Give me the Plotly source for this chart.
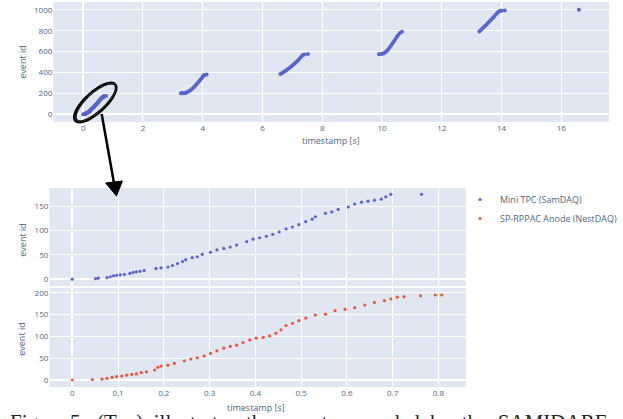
import math
import plotly.graph_objects as go

W, H = 623, 419

# ---------------- data ----------------
# Mini TPC (SamDAQ) - zoomed first burst
mini_t = [0.000, 0.051, 0.057, 0.076, 0.083, 0.090, 0.097, 0.105, 0.114, 0.126, 0.133,
          0.140, 0.148, 0.157, 0.183, 0.194, 0.209, 0.219, 0.230, 0.241, 0.248, 0.262,
          0.273, 0.284, 0.302, 0.316, 0.331, 0.345, 0.359, 0.381, 0.395, 0.409, 0.424,
          0.438, 0.452, 0.467, 0.481, 0.495, 0.510, 0.524, 0.531, 0.553, 0.567, 0.581,
          0.603, 0.617, 0.632, 0.646, 0.660, 0.675, 0.685, 0.696, 0.763]
mini_id = [0, 1, 2, 3, 5, 7, 8, 9, 10, 12, 14,
           15, 16, 18, 22, 23, 25, 28, 32, 36, 40, 44,
           46, 51, 55, 60, 63, 66, 70, 77, 82, 85, 88,
           92, 97, 103, 107, 112, 118, 123, 128, 135, 138, 143,
           148, 154, 158, 160, 162, 164, 169, 174, 174]

# SP-RPPAC Anode (NestDAQ)
rppac_t = [0.000, 0.044, 0.065, 0.076, 0.087, 0.097, 0.108, 0.119, 0.130, 0.140, 0.151,
           0.162, 0.180, 0.187, 0.194, 0.209, 0.223, 0.245, 0.259, 0.273, 0.288, 0.302,
           0.316, 0.331, 0.345, 0.359, 0.373, 0.388, 0.402, 0.417, 0.431, 0.445, 0.456,
           0.467, 0.481, 0.495, 0.510, 0.531, 0.553, 0.574, 0.596, 0.617, 0.639, 0.660,
           0.682, 0.696, 0.710, 0.725, 0.761, 0.793, 0.807]
rppac_id = [0, 1, 2, 4, 6, 8, 9, 11, 13, 14, 17,
            19, 23, 29, 32, 34, 38, 44, 48, 51, 55, 61,
            67, 73, 77, 80, 86, 92, 96, 98, 101, 107, 115,
            125, 130, 136, 142, 149, 151, 159, 162, 166, 172, 178,
            182, 186, 190, 191, 193, 195, 195]

# Full run (Mini TPC), later bursts
burst2_t = [3.27, 3.30, 3.34, 3.38, 3.42, 3.46, 3.50, 3.55, 3.60, 3.65, 3.70, 3.75, 3.80,
            3.85, 3.90, 3.95, 4.00, 4.03, 4.06, 4.13]
burst2_id = [200, 200, 201, 202, 204, 208, 214, 222, 232, 244, 257, 272, 288,
             305, 322, 340, 358, 370, 376, 380]
burst3_t = [6.60, 6.65, 6.70, 6.75, 6.80, 6.85, 6.90, 6.95, 7.00, 7.05, 7.10, 7.15, 7.20,
            7.25, 7.30, 7.35, 7.40, 7.52]
burst3_id = [385, 393, 402, 412, 422, 432, 443, 454, 466, 478, 491, 505, 520,
             536, 552, 566, 573, 576]
burst4_t = [9.90, 9.95, 10.00, 10.05, 10.10, 10.15, 10.20, 10.25, 10.30, 10.35, 10.40,
            10.45, 10.50, 10.55, 10.60, 10.67]
burst4_id = [575, 576, 578, 582, 590, 602, 618, 636, 656, 677, 698,
             720, 742, 762, 778, 790]
burst5_t = [13.26, 13.30, 13.35, 13.40, 13.45, 13.50, 13.55, 13.60, 13.65, 13.70, 13.75,
            13.80, 13.85, 13.90, 13.95, 14.00, 14.11]
burst5_id = [792, 804, 818, 832, 846, 860, 875, 890, 905, 920, 936,
             952, 968, 982, 990, 992, 993]
burst6_t = [16.59]
burst6_id = [1000]

top_xticks = [0, 2, 4, 6, 8, 10, 12, 14, 16]
top_yticks = [0, 200, 400, 600, 800, 1000]
zoom_xticks = [0, 0.1, 0.2, 0.3, 0.4, 0.5, 0.6, 0.7, 0.8]

BLUE = "#5865cf"
RED = "#ef553b"
TXT = "#506784"
FONT = "Open Sans"

run_t = mini_t + burst2_t + burst3_t + burst4_t + burst5_t + burst6_t
run_id = mini_id + burst2_id + burst3_id + burst4_id + burst5_id + burst6_id


def fx(px):
    return px / W


def fy(py):
    return 1 - py / H


fig = go.Figure()
fig.add_trace(go.Scatter(x=run_t, y=run_id, mode="markers", xaxis="x", yaxis="y",
                         marker=dict(color=BLUE, size=4), showlegend=False))
fig.add_trace(go.Scatter(x=mini_t, y=mini_id, mode="markers", xaxis="x2", yaxis="y2",
                         name="Mini TPC (SamDAQ)", marker=dict(color=BLUE, size=3.2)))
fig.add_trace(go.Scatter(x=rppac_t, y=rppac_id, mode="markers", xaxis="x3", yaxis="y3",
                         name="SP-RPPAC Anode (NestDAQ)", marker=dict(color=RED, size=3.2)))

tickf = dict(size=8, color=TXT, family=FONT)
titf = dict(size=9, color=TXT, family=FONT)
ax_common = dict(tickfont=tickf, gridcolor="white", zerolinecolor="white",
                 zerolinewidth=2, automargin=False)

fig.update_layout(
    width=W, height=H, template="plotly",
    margin=dict(l=0, r=0, t=0, b=0),
    plot_bgcolor="#e0e7f2", paper_bgcolor="white",
    font=dict(family=FONT, color=TXT),
    xaxis=dict(domain=[fx(54), fx(617)], range=[-1.0, 17.6], tickvals=top_xticks,
               anchor="y", **ax_common),
    yaxis=dict(domain=[fy(122), fy(2)], range=[-75, 1075], tickvals=top_yticks,
               anchor="x", **ax_common),
    xaxis2=dict(domain=[fx(50), fx(472)], range=[-0.05, 0.86], tickvals=zoom_xticks,
                showticklabels=False, anchor="y2", **ax_common),
    yaxis2=dict(domain=[fy(286), fy(188)], range=[-14, 187], dtick=50,
                anchor="x2", **ax_common),
    xaxis3=dict(domain=[fx(50), fx(472)], range=[-0.05, 0.86], tickvals=zoom_xticks,
                anchor="y3", **ax_common),
    yaxis3=dict(domain=[fy(387), fy(288)], range=[-16, 211], dtick=50,
                anchor="x3", **ax_common),
    legend=dict(x=fx(466), y=fy(185), xanchor="left", yanchor="top",
                font=dict(size=9, color=TXT, family=FONT), bgcolor="rgba(0,0,0,0)",
                tracegroupgap=0),
)

# axis titles
for txt, px, py, ang in [("event id", 23, 62, -90), ("timestamp [s]", 335, 140, 0),
                         ("event id", 22, 240, -90), ("event id", 21, 339, -90),
                         ("timestamp [s]", 259, 407, 0)]:
    fig.add_annotation(xref="paper", yref="paper", x=fx(px), y=fy(py), text=txt,
                       textangle=ang, showarrow=False, xanchor="center", yanchor="middle",
                       font=titf)

# hand-drawn ellipse around the first burst
def ellipse_path(cx, cy, a, b, ang, jitter=0.0):
    pts = []
    u = (math.cos(ang), -math.sin(ang))
    v = (math.sin(ang), math.cos(ang))
    n = 60
    for i in range(n + 1):
        t = 2 * math.pi * i / n
        aa = a + jitter * math.sin(t)
        px = cx + aa * math.cos(t) * u[0] + b * math.sin(t) * v[0]
        py = cy + aa * math.cos(t) * u[1] + b * math.sin(t) * v[1]
        pts.append((fx(px), fy(py)))
    return "M " + " L ".join(f"{x:.5f},{y:.5f}" for x, y in pts)

ang = math.radians(42)
fig.add_shape(type="path", xref="paper", yref="paper",
              path=ellipse_path(96.5, 102.5, 27, 10, ang),
              line=dict(color="black", width=2.8))
fig.add_shape(type="path", xref="paper", yref="paper",
              path=ellipse_path(97, 102, 26, 9, ang, jitter=1.5),
              line=dict(color="#222", width=1.5))
# arrow
fig.add_shape(type="line", xref="paper", yref="paper",
              x0=fx(103), y0=fy(114), x1=fx(116), y1=fy(186),
              line=dict(color="black", width=2.5))
fig.add_shape(type="path", xref="paper", yref="paper",
              path=f"M {fx(107)},{fy(183)} L {fx(124)},{fy(181)} L {fx(118)},{fy(196)} Z",
              fillcolor="black", line=dict(color="black", width=1))

# partially cropped caption
fig.add_annotation(xref="paper", yref="paper", x=fx(8), y=fy(408), xanchor="left",
                   yanchor="top", showarrow=False,
                   text="Figure 5:  (Top)  illustrates  the  events  recorded  by  the  SAMIDARE",
                   font=dict(family="Liberation Serif", size=21, color="#222"))

fig.write_html("out.html", config={"displayModeBar": False},
               post_script="document.body.style.margin='0';")
